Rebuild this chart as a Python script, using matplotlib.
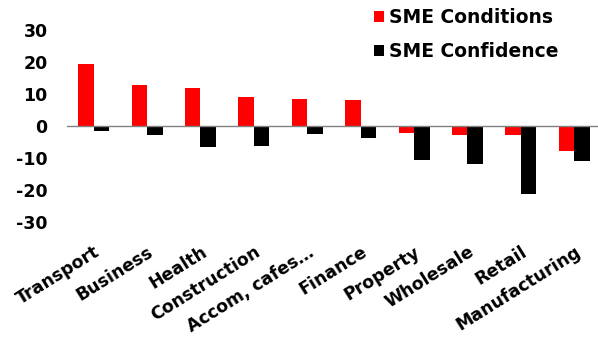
import matplotlib.pyplot as plt
import numpy as np

plt.rcParams['font.family'] = ['DejaVu Sans']
plt.rcParams['axes.unicode_minus'] = False

categories = ["Transport", "Business", "Health", "Construction", "Accom, cafes…",
              "Finance", "Property", "Wholesale", "Retail", "Manufacturing"]
conditions = [19.4, 12.6, 11.9, 8.9, 8.5, 8.0, -2.1, -2.9, -2.9, -7.7]
confidence = [-1.6, -2.8, -6.5, -6.2, -2.5, -3.9, -10.7, -11.9, -21.3, -11.1]

x = np.arange(len(categories))
w = 0.29

fig = plt.figure(figsize=(5.98, 3.41), dpi=100)
ax = fig.add_axes([0.112, 0.349, 0.893, 0.564])

ax.bar(x - w/2, conditions, w, color="#FF0000", label="SME Conditions", zorder=2)
ax.bar(x + w/2, confidence, w, color="black", label="SME Confidence", zorder=2)
ax.axhline(0, color="#808080", lw=1.0, zorder=3)

ax.set_xlim(-0.5, len(categories) - 0.5)
ax.set_ylim(-30, 30)
ax.set_yticks(np.arange(-30, 31, 10))
ax.tick_params(axis="y", length=0, pad=14, labelsize=12.5)
ax.tick_params(axis="x", length=0, pad=15, labelsize=12.5)
for lab in ax.get_yticklabels():
    lab.set_fontweight("bold")
ax.set_xticks(x)
ax.set_xticklabels(categories, rotation=32, ha="right", va="top",
                   rotation_mode="anchor", fontweight="bold")
for s in ax.spines.values():
    s.set_visible(False)

ax.legend(loc="upper right", bbox_to_anchor=(0.935, 1.15), frameon=False,
          prop={"weight": "bold", "size": 13.5}, handlelength=0.5, handleheight=0.5,
          handletextpad=0.3, labelspacing=0.8, borderaxespad=0)

fig.savefig("out.png", dpi=100)
